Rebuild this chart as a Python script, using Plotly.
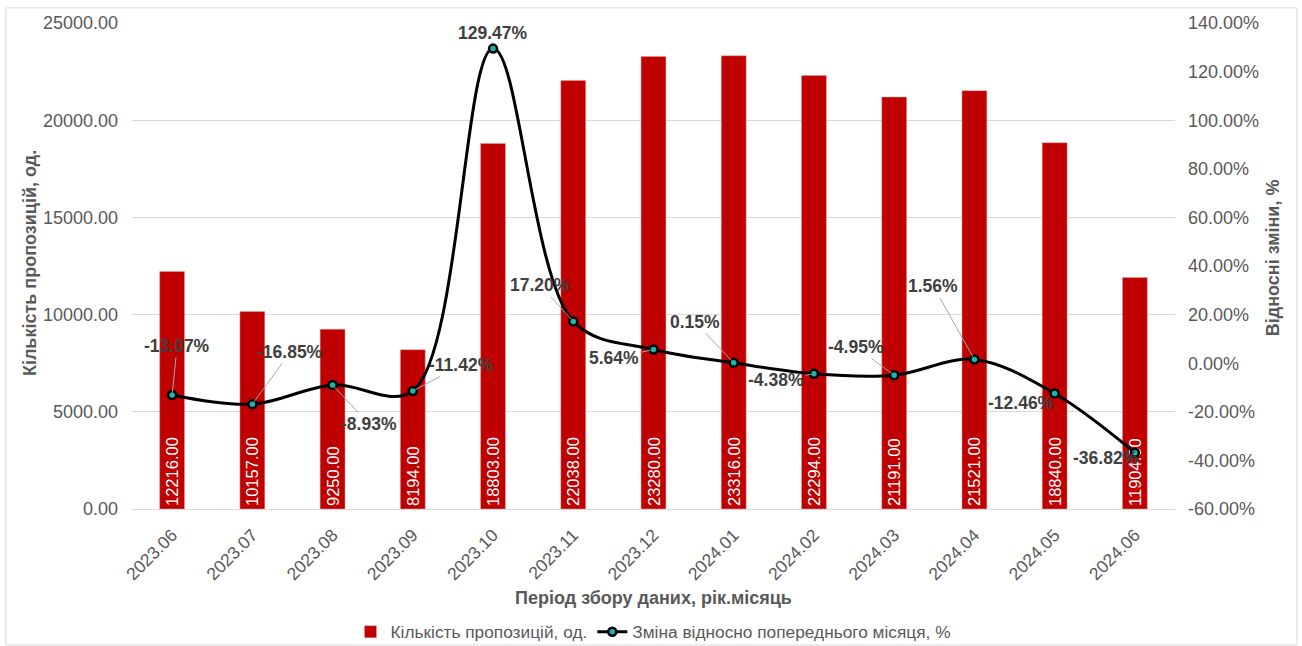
import plotly.graph_objects as go

categories = ["2023.06", "2023.07", "2023.08", "2023.09", "2023.10", "2023.11", "2023.12",
              "2024.01", "2024.02", "2024.03", "2024.04", "2024.05", "2024.06"]
counts = [12216, 10157, 9250, 8194, 18803, 22038, 23280, 23316, 22294, 21191, 21521, 18840, 11904]
changes = [-13.07, -16.85, -8.93, -11.42, 129.47, 17.20, 5.64, 0.15, -4.38, -4.95, 1.56, -12.46, -36.82]
left_ticks = [0, 5000, 10000, 15000, 20000, 25000]
right_ticks = [-60, -40, -20, 0, 20, 40, 60, 80, 100, 120, 140]

# label offsets (pixels) relative to each point
label_offsets = [(5, -49), (38, -52), (36, 39), (49, -26), (0, -16), (-33, -36), (-40, 9),
                 (-39, -41), (-38, 6), (-38, -28), (-41, -73), (-34, 10), (-29, 5)]

font_family = "Liberation Sans, Arial, sans-serif"
gray = "#595959"
idx = list(range(len(categories)))

fig = go.Figure()
fig.add_trace(go.Bar(
    x=idx, y=counts, name="Кількість пропозицій, од.",
    marker=dict(color="#C00000", line=dict(color="#E8A0A0", width=0.5)), width=0.31,
    texttemplate="%{y:.2f}", textposition="inside", insidetextanchor="start",
    textangle=-90, textfont=dict(color="white", size=16.5, family=font_family),
    customdata=categories, hovertemplate="%{customdata}: %{y}<extra></extra>",
))
fig.add_trace(go.Scatter(
    x=idx, y=changes, name="Зміна відносно попереднього місяця, %", yaxis="y2",
    mode="lines+markers", line=dict(color="black", width=3, shape="spline", smoothing=1.0),
    marker=dict(size=8, color="#1FB5A8", line=dict(color="black", width=2.5)),
))

annotations = []
for i, v, (dx, dy) in zip(idx, changes, label_offsets):
    a = dict(x=i, y=v, xref="x", yref="y2", text=f"<b>{v:.2f}%</b>",
             font=dict(size=17.5, color="#404040", family=font_family))
    if dy == -16 and dx == 0:
        a.update(showarrow=False, yshift=16)
    else:
        a.update(showarrow=True, ax=dx, ay=dy, axref="pixel", ayref="pixel",
                 arrowhead=0, arrowwidth=1, arrowcolor="#A6A6A6", standoff=3)
    annotations.append(a)

title_font = dict(size=18, color=gray, family=font_family)
annotations += [
    dict(text="<b>Період збору даних, рік.місяць</b>", xref="paper", yref="paper",
         x=0.5, y=-0.183, xanchor="center", yanchor="middle", showarrow=False, font=title_font),
    dict(text="<b>Кількість пропозицій, од.</b>", xref="paper", yref="paper",
         x=-0.0978, y=0.506, xanchor="center", yanchor="middle", textangle=-90,
         showarrow=False, font=title_font),
    dict(text="<b>Відносні зміни, %</b>", xref="paper", yref="paper",
         x=1.094, y=0.516, xanchor="center", yanchor="middle", textangle=-90,
         showarrow=False, font=title_font),
]

fig.update_layout(
    width=1302, height=646,
    margin=dict(l=132, r=127, t=23, b=137, autoexpand=False),
    paper_bgcolor="white", plot_bgcolor="white",
    font=dict(family=font_family, color=gray, size=17),
    xaxis=dict(range=[-0.5, 12.5], tickmode="array", tickvals=idx, ticktext=categories,
               tickangle=-45, tickfont=dict(size=17.5, color=gray), showline=True,
               linecolor="#D9D9D9", linewidth=1, ticks="", showgrid=False, zeroline=False,
               automargin=False, ticklabelstandoff=8),
    yaxis=dict(range=[0, 25000], tickmode="array", tickvals=left_ticks,
               ticktext=[f"{t:.2f}" for t in left_ticks], automargin=False,
               tickfont=dict(size=18, color=gray), gridcolor="#D9D9D9", zeroline=False,
               ticklabelstandoff=13),
    yaxis2=dict(range=[-60, 140], tickmode="array", tickvals=right_ticks, overlaying="y", side="right",
                ticktext=[f"{t:.2f}%" for t in right_ticks], automargin=False,
                tickfont=dict(size=18, color=gray), showgrid=False, zeroline=False,
                ticklabelstandoff=12),
    legend=dict(orientation="h", x=0.5, xanchor="center", y=-0.216, yanchor="top",
                font=dict(size=17.3, color=gray), itemwidth=30, bgcolor="rgba(0,0,0,0)"),
    annotations=annotations,
    shapes=[dict(type="rect", xref="paper", yref="paper", x0=-0.121, x1=1.117,
                 y0=-0.28, y1=1.031, line=dict(color="#D9D9D9", width=1))],
)
fig.write_html("out.html", config={"displayModeBar": False},
               post_script="document.body.style.margin='0';")
